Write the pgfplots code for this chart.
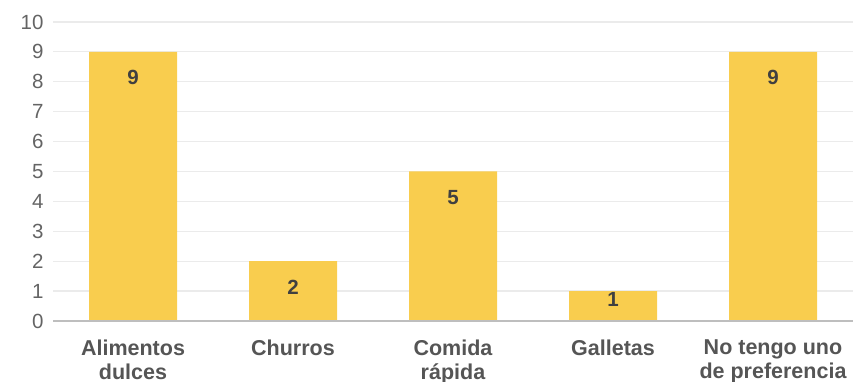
\documentclass[border=0pt]{standalone}
\usepackage{pgfplots}
\pgfplotsset{compat=1.18}
\usepackage{fontspec}
\setmainfont{Liberation Sans}
\definecolor{baryellow}{RGB}{249,205,78}
\definecolor{gridc}{RGB}{235,235,235}
\definecolor{axisc}{RGB}{190,190,190}
\definecolor{tickc}{RGB}{100,100,100}
\definecolor{labc}{RGB}{85,85,85}
\definecolor{valc}{RGB}{64,64,64}
\pgfplotstableread{
x y s
0 9 -15
1 2 -15
2 5 -15
3 1 2
4 9 -15
}\datatable
\begin{document}
\begin{tikzpicture}
\begin{axis}[
  scale only axis,
  width=800pt, height=299pt,
  xmin=-0.5, xmax=4.5,
  ymin=0, ymax=10,
  ytick={0,1,...,10},
  xtick={0,1,2,3,4},
  xticklabels={{Alimentos\\dulces},{Churros},{Comida\\rápida},{Galletas},{No tengo uno\\de preferencia}},
  xticklabel style={align=center, font=\fontsize{21.5}{24}\selectfont\bfseries, text=labc, yshift=-15pt},
  yticklabel style={font=\fontsize{20.5}{22}\selectfont, text=tickc, xshift=-6pt},
  /pgf/number format/assume math mode=true,
  major tick length=0pt,
  ymajorgrids,
  grid style={gridc, line width=1.2pt},
  axis line style={draw=none},
  axis x line*=bottom,
  axis y line*=left,
  clip=false,
]
\addplot[ybar, bar width=88pt, fill=baryellow, draw=none,
  visualization depends on={\thisrow{s} \as \myshift},
  nodes near coords,
  nodes near coords align={below},
  every node near coord/.append style={font=\fontsize{20.5}{22}\selectfont\bfseries, text=valc, yshift=\myshift pt},
] table[x=x, y=y] {\datatable};
\draw[axisc, line width=2pt] (axis cs:-0.5,0) -- (axis cs:4.5,0);
\end{axis}
\pgfresetboundingbox
\path[use as bounding box] (-53pt,-61pt) rectangle (800pt,321pt);
\end{tikzpicture}
\end{document}
